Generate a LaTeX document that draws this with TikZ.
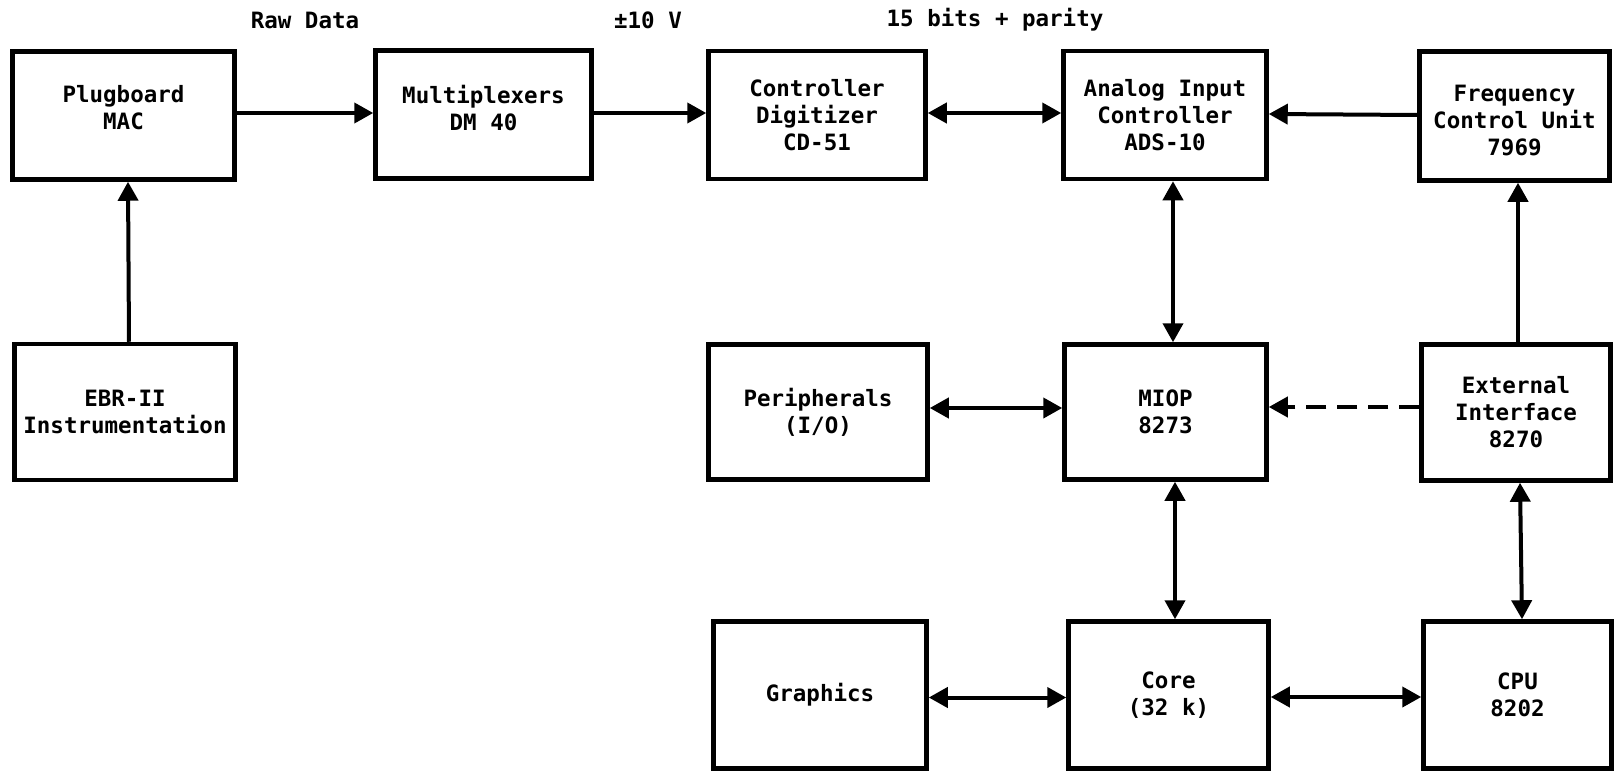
\documentclass[tikz,border=0pt]{standalone}
\usepackage{fontspec}
\newfontfamily\diagfont{DejaVu Sans Mono}
\usetikzlibrary{arrows.meta}
\tikzset{
  blk/.style={draw, line width=4.5pt, inner sep=0pt, align=center,
    font=\diagfont\bfseries\fontsize{22.5}{27}\selectfont},
  lbl/.style={inner sep=0pt, align=center,
    font=\diagfont\bfseries\fontsize{22.5}{27}\selectfont},
  conn/.style={line width=4pt, -{Triangle[length=19pt,width=20pt]}},
  bconn/.style={line width=4pt, {Triangle[length=19pt,width=20pt]}-{Triangle[length=19pt,width=20pt]}},
  dconn/.style={conn, dash pattern=on 20pt off 11pt}
}
\begin{document}
\begin{tikzpicture}[x=1pt,y=-1pt]
\useasboundingbox (0,0) rectangle (1615,773);
% row 1
\node[blk, minimum width=222pt, minimum height=128pt] (plug) at (123.5,115.5) {};
\node[lbl] (plugt) at (123.5,108) {Plugboard\\MAC};
\node[blk, minimum width=216pt, minimum height=128pt] (mux) at (483.5,114.5) {};
\node[lbl] (muxt) at (483.5,108) {Multiplexers\\DM 40};
\node[blk, minimum width=217pt, minimum height=128pt] (ctrl) at (817,115) {Controller\\Digitizer\\CD-51};
\node[blk, minimum width=203pt, minimum height=128pt] (adc) at (1165,115) {Analog Input\\Controller\\ADS-10};
\node[blk, minimum width=190pt, minimum height=129pt] (freq) at (1514.5,116) {};
\node[lbl] (freqt) at (1514.5,121) {Frequency\\Control Unit\\7969};
% row 2
\node[blk, minimum width=221pt, minimum height=136pt] (ebr) at (125,412) {EBR-II\\Instrumentation};
\node[blk, minimum width=219pt, minimum height=135pt] (peri) at (818,412) {Peripherals\\(I/O)};
\node[blk, minimum width=202pt, minimum height=135pt] (miop) at (1165.5,412) {MIOP\\8273};
\node[blk, minimum width=189pt, minimum height=136pt] (ext) at (1516,412.5) {External\\Interface\\8270};
% row 3
\node[blk, minimum width=213pt, minimum height=147pt] (graph) at (820,695) {Graphics};
\node[blk, minimum width=200pt, minimum height=147pt] (core) at (1168.5,695) {Core\\(32 k)};
\node[blk, minimum width=188pt, minimum height=147pt] (cpu) at (1517.5,695) {CPU\\8202};
% top labels
\node[lbl] (raw) at (305,20) {Raw Data};
\node[lbl] (volt) at (648,20) {±10 V};
\node[lbl] (bits) at (995,20) {15 bits + parity};
% connectors
\draw[conn] ([yshift=2.5pt]plug.east) -- ([yshift=1.5pt]mux.west);
\draw[conn] ([yshift=1.5pt]mux.east) -- ([yshift=2pt]ctrl.west);
\draw[bconn] ([yshift=2pt]ctrl.east) -- ([yshift=2pt]adc.west);
\draw[conn] ([yshift=1pt]freq.west) -- ([yshift=1pt]adc.east);
\draw[conn] ([xshift=4pt]ebr.north) -- ([xshift=4.5pt]plug.south);
\draw[bconn] ([xshift=8pt]adc.south) -- ([xshift=7.5pt]miop.north);
\draw[conn] ([xshift=2pt]ext.north) -- ([xshift=3.5pt]freq.south);
\draw[bconn] ([yshift=4pt]peri.east) -- ([yshift=4pt]miop.west);
\draw[dconn] ([yshift=5.5pt]ext.west) -- ([yshift=5pt]miop.east);
\draw[bconn] ([xshift=9.5pt]miop.south) -- ([xshift=6.5pt]core.north);
\draw[bconn] ([xshift=4pt]ext.south) -- ([xshift=4.5pt]cpu.north);
\draw[bconn] ([yshift=-2.5pt]graph.east) -- ([yshift=-2.5pt]core.west);
\draw[bconn] ([yshift=-2pt]core.east) -- ([yshift=-2pt]cpu.west);
\end{tikzpicture}
\end{document}
